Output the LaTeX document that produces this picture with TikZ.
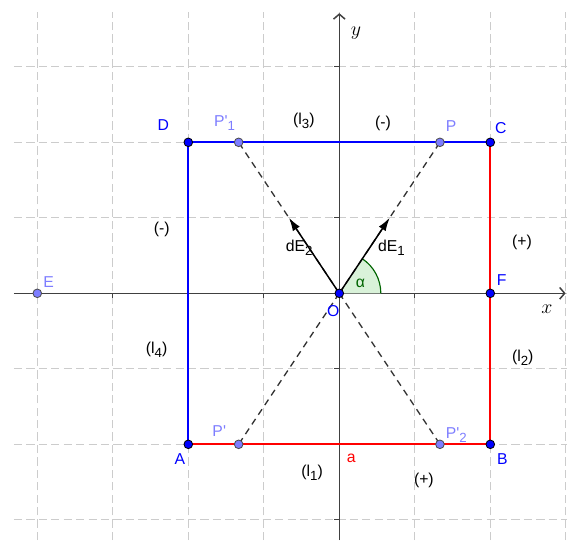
\documentclass[tikz,border=0pt]{standalone}
\usepackage{fontspec}
\setmainfont{Liberation Sans}
\usetikzlibrary{arrows.meta}
\definecolor{ptblue}{RGB}{0,0,255}
\definecolor{ptlight}{RGB}{125,125,255}
\definecolor{anggreen}{RGB}{0,100,0}
\newcommand{\lowidx}[1]{\raisebox{-0.45ex}{\fontsize{8}{8}\selectfont #1}}
\tikzset{
  gridline/.style={gray!40,line width=0.6pt,dash pattern=on 5pt off 2.5pt},
  axisline/.style={black!75,line width=0.9pt,-{Straight Barb[length=3pt,width=7pt]}},
  redside/.style={red,line width=1.2pt},
  blueside/.style={ptblue,line width=1.2pt},
  rayline/.style={black!80,line width=0.8pt,dash pattern=on 4pt off 3pt},
  fieldvec/.style={black,line width=0.9pt,-{Latex[length=8pt,width=5pt]}},
  fixdot/.style={circle,draw=black,fill=ptblue,line width=0.5pt,inner sep=0pt,minimum size=5.2pt},
  freedot/.style={circle,draw=black!70,fill=ptlight,line width=0.5pt,inner sep=0pt,minimum size=5.2pt},
  fixlbl/.style={text=ptblue},
  freelbl/.style={text=ptlight}
}
\begin{document}
\begin{tikzpicture}[x=1.6cm,y=1.6cm,font=\fontsize{9.5}{11}\selectfont]
    \useasboundingbox (-4.494,-3.268) rectangle (3.016,3.885);
    % grid
    \foreach \x in {-4,...,3}
      \draw[gridline] (\x,-3.27) -- (\x,3.73);
    \foreach \y in {-3,...,3}
      \draw[gridline] (-4.31,\y) -- (3.02,\y);

    % axes
    \coordinate (xl) at (-4.31,0);
    \coordinate (xr) at (2.998,0);
    \coordinate (yb) at (0,-3.27);
    \coordinate (yt) at (0,3.71);
    \draw[axisline] (xl) -- (xr);
    \draw[axisline] (yb) -- (yt);
    \foreach \x in {-4,-3,-2,-1,1,2}
      \draw[black!75,line width=0.7pt] (\x,0) -- (\x,-0.06);
    \foreach \y in {-3,-2,-1,1,2,3}
      \draw[black!75,line width=0.7pt] (0,\y) -- (-0.07,\y);
    \node (xlab) at (2.75,-0.21) {\fontsize{12}{12}\selectfont$x$};
    \node (ylab) at (0.22,3.44) {\fontsize{12}{12}\selectfont$y$};

    % points
    \coordinate (O) at (0,0);
    \coordinate (A) at (-2,-2);
    \coordinate (B) at (2,-2);
    \coordinate (C) at (2,2);
    \coordinate (D) at (-2,2);
    \coordinate (F) at (2,0);
    \coordinate (E) at (-4,0);
    \coordinate (P) at (1.333,2);
    \coordinate (P1) at (-1.333,2);
    \coordinate (Pp) at (-1.333,-2);
    \coordinate (P2) at (1.333,-2);
    \coordinate (t1) at (0.667,1);
    \coordinate (t2) at (-0.667,1);
    \coordinate (arcend) at (0.55,0);

    % angle
    \fill[green!50!gray!20] (O) -- (arcend) arc (0:56.31:0.55) -- cycle;
    \draw[anggreen,line width=0.7pt] (arcend) arc (0:56.31:0.55);
    \node[text=anggreen] (alab) at (0.28,0.13) {α};

    % square
    \draw[redside] (A) -- (B) -- (C);
    \draw[blueside] (C) -- (D) -- (A);

    % rays and fields
    \foreach \q in {P,P1,Pp,P2}
      \draw[rayline] (O) -- (\q);
    \draw[fieldvec] (O) -- (t1);
    \draw[fieldvec] (O) -- (t2);
    \node (dE1) at (0.69,0.6) {dE\lowidx{1}};
    \node (dE2) at (-0.53,0.6) {dE\lowidx{2}};

    \foreach \q in {O,A,B,C,D,F}
      \node[fixdot] (d\q) at (\q) {};
    \foreach \q in {E,P,P1,Pp,P2}
      \node[freedot] (d\q) at (\q) {};

    % labels
    \node[fixlbl] (lA) at (-2.11,-2.2) {A};
    \node[fixlbl] (lB) at (2.16,-2.2) {B};
    \node[fixlbl] (lC) at (2.14,2.19) {C};
    \node[fixlbl] (lD) at (-2.33,2.23) {D};
    \node[fixlbl] (lF) at (2.15,0.18) {F};
    \node[fixlbl] (lO) at (-0.08,-0.23) {O};
    \node[freelbl] (lE) at (-3.85,0.15) {E};
    \node[freelbl] (lP) at (1.48,2.21) {P};
    \node[freelbl] (lP1) at (-1.52,2.25) {P\textquotesingle\lowidx{1}};
    \node[freelbl] (lPp) at (-1.59,-1.83) {P\textquotesingle};
    \node[freelbl] (lP2) at (1.55,-1.88) {P\textquotesingle\lowidx{2}};
    \node[text=red] (la) at (0.16,-2.19) {a};

    \node (l1) at (-0.36,-2.38) {(l\lowidx{1})};
    \node (l2) at (2.43,-0.85) {(l\lowidx{2})};
    \node (l3) at (-0.47,2.28) {(l\lowidx{3})};
    \node (l4) at (-2.42,-0.75) {(l\lowidx{4})};
    \node (sgnT) at (0.58,2.25) {(-)};
    \node (sgnL) at (-2.35,0.84) {(-)};
    \node (sgnR) at (2.42,0.68) {(+)};
    \node (sgnB) at (1.12,-2.48) {(+)};
\end{tikzpicture}
\end{document}
